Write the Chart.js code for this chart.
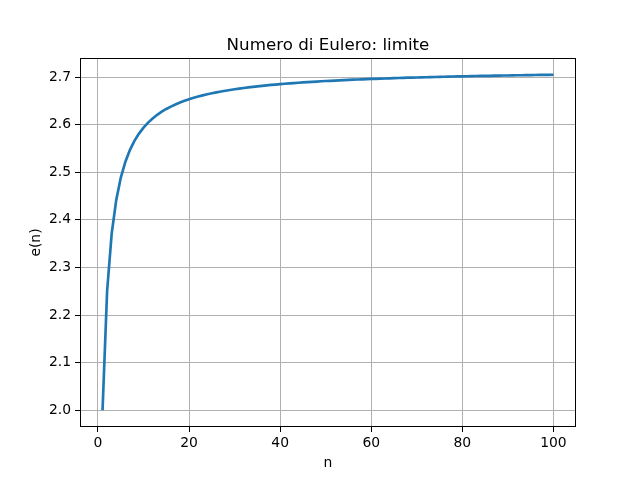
<!DOCTYPE html>
<html>
<head>
<meta charset="utf-8">
<script src="https://cdn.jsdelivr.net/npm/chart.js@4"></script>
<style>
  html, body { margin: 0; padding: 0; background: #fff; }
  #wrap { width: 640px; height: 480px; }
</style>
</head>
<body>
<div id="wrap"><canvas id="eulerChart" width="640" height="480"></canvas></div>
<script>
// n = 1..100 and e(n)
const nValues = Array.from({ length: 100 }, (_, i) => i + 1);
const eValues = [
  2.0000, 2.2500, 2.3704, 2.4414, 2.4883, 2.5216, 2.5465, 2.5658, 2.5812, 2.5937,
  2.6042, 2.6130, 2.6206, 2.6272, 2.6329, 2.6379, 2.6424, 2.6464, 2.6500, 2.6533,
  2.6563, 2.6590, 2.6615, 2.6637, 2.6658, 2.6678, 2.6696, 2.6713, 2.6728, 2.6743,
  2.6757, 2.6770, 2.6782, 2.6794, 2.6804, 2.6815, 2.6824, 2.6834, 2.6842, 2.6851,
  2.6859, 2.6866, 2.6873, 2.6880, 2.6887, 2.6893, 2.6899, 2.6905, 2.6911, 2.6916,
  2.6921, 2.6926, 2.6931, 2.6935, 2.6940, 2.6944, 2.6948, 2.6952, 2.6956, 2.6960,
  2.6963, 2.6967, 2.6970, 2.6973, 2.6977, 2.6980, 2.6983, 2.6986, 2.6988, 2.6991,
  2.6994, 2.6996, 2.6999, 2.7001, 2.7004, 2.7006, 2.7008, 2.7011, 2.7013, 2.7015,
  2.7017, 2.7019, 2.7021, 2.7023, 2.7025, 2.7026, 2.7028, 2.7030, 2.7032, 2.7033,
  2.7035, 2.7037, 2.7038, 2.7040, 2.7041, 2.7043, 2.7044, 2.7045, 2.7047, 2.7048
];
const xTicks = [0, 20, 40, 60, 80, 100];
const yTicks = [2.0, 2.1, 2.2, 2.3, 2.4, 2.5, 2.6, 2.7];

const FONT = 'DejaVu Sans';

// frame, title and axis labels like matplotlib
const framePlugin = {
    id: 'frame',
    afterDraw(chart) {
        const { ctx, chartArea: a } = chart;
        ctx.save();
        ctx.strokeStyle = '#000';
        ctx.lineWidth = 1;
        ctx.strokeRect(a.left + 0.5, a.top + 0.5, a.right - a.left - 1, a.bottom - a.top - 1);
        ctx.fillStyle = '#000';
        ctx.textAlign = 'center';
        ctx.textBaseline = 'alphabetic';
        ctx.font = '16.7px "' + FONT + '"';
        ctx.fillText('Numero di Eulero: limite', (a.left + a.right) / 2, 50);
        ctx.font = '13.9px "' + FONT + '"';
        ctx.fillText('n', (a.left + a.right) / 2, 467);
        ctx.translate(40, (a.top + a.bottom) / 2);
        ctx.rotate(-Math.PI / 2);
        ctx.fillText('e(n)', 0, 0);
        ctx.restore();
    }
};

const ctx = document.getElementById('eulerChart').getContext('2d');
new Chart(ctx, {
    type: 'line',
    data: {
        datasets: [{
            data: nValues.map((n, i) => ({ x: n, y: eValues[i] })),
            borderColor: '#1f77b4',
            borderWidth: 2.67,
            pointRadius: 0,
            tension: 0,
            fill: false
        }]
    },
    options: {
        responsive: false,
        animation: false,
        layout: { padding: { left: 0, right: 64, top: 58, bottom: 0 } },
        plugins: {
            legend: { display: false },
            title: { display: false },
            tooltip: { enabled: false }
        },
        scales: {
            x: {
                type: 'linear',
                min: -3.95,
                max: 104.95,
                afterBuildTicks: (scale) => { scale.ticks = xTicks.map(v => ({ value: v })); },
                afterFit: (scale) => { scale.height = 53; },
                grid: { color: '#b0b0b0', lineWidth: 1, tickColor: '#000', tickLength: 5 },
                border: { display: false },
                ticks: { color: '#000', font: { family: FONT, size: 13.9 }, padding: 3, maxRotation: 0 }
            },
            y: {
                type: 'linear',
                min: 1.9647,
                max: 2.7400,
                afterBuildTicks: (scale) => { scale.ticks = yTicks.map(v => ({ value: v })); },
                afterFit: (scale) => { scale.width = 80; },
                grid: { color: '#b0b0b0', lineWidth: 1, tickColor: '#000', tickLength: 5 },
                border: { display: false },
                ticks: {
                    color: '#000', font: { family: FONT, size: 13.9 }, padding: 4,
                    callback: (v) => v.toFixed(1)
                }
            }
        }
    },
    plugins: [framePlugin]
});
</script>
</body>
</html>
